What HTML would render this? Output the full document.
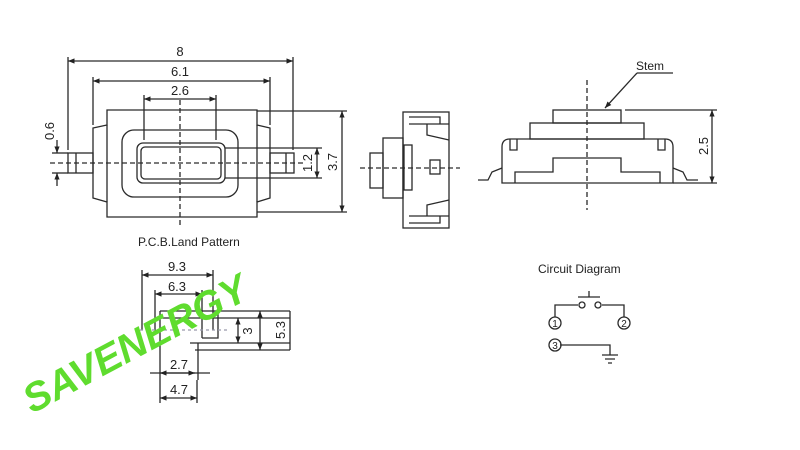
<!DOCTYPE html>
<html><head><meta charset="utf-8"><style>
html,body{margin:0;padding:0;background:#fff;}
svg{display:block;}
text{font-family:"Liberation Sans",sans-serif;fill:#222;}
</style></head><body>
<svg width="800" height="450" viewBox="0 0 800 450" xmlns="http://www.w3.org/2000/svg">
<defs>
<marker id="a" viewBox="0 0 10 10" refX="10" refY="5" markerWidth="7" markerHeight="5" orient="auto-start-reverse"><path d="M0,1 L10,5 L0,9 z" fill="#222"/></marker>
</defs>
<rect width="800" height="450" fill="#fff"/>
<g stroke="#2a2a2a" stroke-width="1.3" fill="none">
<line x1="68" y1="61" x2="293" y2="61" marker-start="url(#a)" marker-end="url(#a)"/>
<line x1="93" y1="81" x2="270" y2="81" marker-start="url(#a)" marker-end="url(#a)"/>
<line x1="144" y1="99" x2="216" y2="99" marker-start="url(#a)" marker-end="url(#a)"/>
<line x1="68" y1="57" x2="68" y2="150"/><line x1="293" y1="57" x2="293" y2="150"/>
<line x1="93" y1="77" x2="93" y2="125"/><line x1="270" y1="77" x2="270" y2="125"/>
<line x1="144" y1="95" x2="144" y2="140"/><line x1="216" y1="95" x2="216" y2="140"/>
<path d="M107,110 H257 V125 L270,128 V198 L257,202 V217 H107 V202 L93,198 V128 L107,125 Z"/>
<path d="M107,125 V202 M257,125 V202"/>
<rect x="122" y="130" width="116" height="67" rx="12"/>
<rect x="137" y="143" width="88" height="40" rx="6"/>
<rect x="141" y="147" width="80" height="32" rx="4"/>
<rect x="68" y="153" width="25" height="20"/><line x1="76" y1="153" x2="76" y2="173"/>
<rect x="270" y="153" width="24" height="20"/><line x1="286" y1="153" x2="286" y2="173"/>
<line x1="50" y1="163" x2="305" y2="163" stroke-dasharray="5,3"/>
<line x1="180" y1="100" x2="180" y2="225" stroke-dasharray="5,3"/>
<line x1="225" y1="148" x2="322" y2="148"/><line x1="225" y1="178" x2="322" y2="178"/>
<line x1="317" y1="148" x2="317" y2="178" marker-start="url(#a)" marker-end="url(#a)"/>
<line x1="257" y1="111" x2="347" y2="111"/><line x1="257" y1="212" x2="347" y2="212"/>
<line x1="342" y1="111" x2="342" y2="212" marker-start="url(#a)" marker-end="url(#a)"/>
<line x1="52" y1="153" x2="68" y2="153"/><line x1="52" y1="173" x2="68" y2="173"/>
<line x1="57" y1="140" x2="57" y2="153" marker-end="url(#a)"/><line x1="57" y1="186" x2="57" y2="173" marker-end="url(#a)"/>
<rect x="403" y="112" width="46" height="116"/>
<rect x="383" y="138" width="20" height="60"/>
<rect x="370" y="153" width="13" height="35"/>
<rect x="404" y="145" width="8" height="45"/>
<rect x="430" y="160" width="10" height="14"/>
<path d="M409,117 H440 V124 M409,124 H449 M427,124 V135 L449,140 M409,223 H440 V216 M409,216 H449 M427,216 V205 L449,200"/>
<line x1="360" y1="168" x2="460" y2="168" stroke-dasharray="5,3"/>
<rect x="553" y="110" width="68" height="13"/>
<rect x="530" y="123" width="114" height="16"/>
<path d="M502,183 V147 Q502,139 510,139 H665 Q673,139 673,147 V183 Z"/>
<path d="M515,183 V172 H553 V158 H621 V172 H660 V183"/>
<path d="M510,139 V150 H517 V139 M665,139 V150 H658 V139"/>
<path d="M502,168 L492,172 L488,180 H478 M673,168 L683,172 L687,180 H698"/>
<path d="M625,110 H717 M673,183 H717"/>
<line x1="712" y1="110" x2="712" y2="183" marker-start="url(#a)" marker-end="url(#a)"/>
<line x1="587" y1="80" x2="587" y2="210" stroke-dasharray="5,3"/>
<line x1="637" y1="73" x2="673" y2="73"/>
<line x1="637" y1="73" x2="605" y2="108" marker-end="url(#a)"/>
<line x1="142" y1="275" x2="213" y2="275" marker-start="url(#a)" marker-end="url(#a)"/>
<line x1="155" y1="294" x2="202" y2="294" marker-start="url(#a)" marker-end="url(#a)"/>
<line x1="142" y1="270" x2="142" y2="330"/><line x1="213" y1="270" x2="213" y2="330"/>
<line x1="155" y1="290" x2="155" y2="335"/><line x1="202" y1="290" x2="202" y2="338"/>
<path d="M160,311 H290 M160,318 H290 M190,343 H290 M195,350 H290 M160,311 V380 M198,343 V380 M218,311 V338 H202"/>
<line x1="238" y1="318" x2="238" y2="343" marker-start="url(#a)" marker-end="url(#a)"/>
<line x1="260" y1="311" x2="260" y2="350" marker-start="url(#a)" marker-end="url(#a)"/>
<line x1="290" y1="311" x2="290" y2="350"/>
<line x1="150" y1="373" x2="210" y2="373"/>
<line x1="160" y1="373" x2="195" y2="373" marker-start="url(#a)" marker-end="url(#a)"/>
<line x1="160" y1="398" x2="197" y2="398" marker-start="url(#a)" marker-end="url(#a)"/>
<line x1="160" y1="380" x2="160" y2="403"/><line x1="197" y1="380" x2="197" y2="403"/>
<line x1="140" y1="330" x2="230" y2="330" stroke-dasharray="3,3" stroke="#99a"/>
<path d="M578,297 H600 M589,291 V297 M578,305 H555 V317 M602,305 H624 V317 M560,345 H610 V355 M602,355 H618 M605,359 H615 M608,363 H612"/>
<circle cx="582" cy="305" r="3"/><circle cx="598" cy="305" r="3"/>
<circle cx="555" cy="323" r="6"/><circle cx="624" cy="323" r="6"/><circle cx="555" cy="345" r="6"/>
</g>
<g font-size="13">
<text x="180" y="56" text-anchor="middle">8</text>
<text x="180" y="76" text-anchor="middle">6.1</text>
<text x="180" y="95" text-anchor="middle">2.6</text>
<text x="0" y="0" transform="translate(312,163) rotate(-90)" text-anchor="middle">1.2</text>
<text x="0" y="0" transform="translate(337,162) rotate(-90)" text-anchor="middle">3.7</text>
<text x="0" y="0" transform="translate(54,131) rotate(-90)" text-anchor="middle">0.6</text>
<text x="0" y="0" transform="translate(708,146) rotate(-90)" text-anchor="middle">2.5</text>
<text x="636" y="70" font-size="12">Stem</text>
<text x="138" y="246" font-size="12">P.C.B.Land Pattern</text>
<text x="538" y="273" font-size="12">Circuit Diagram</text>
<text x="177" y="271" text-anchor="middle">9.3</text>
<text x="177" y="291" text-anchor="middle">6.3</text>
<text x="0" y="0" transform="translate(252,331) rotate(-90)" text-anchor="middle">3</text>
<text x="0" y="0" transform="translate(285,330) rotate(-90)" text-anchor="middle">5.3</text>
<text x="179" y="369" text-anchor="middle">2.7</text>
<text x="179" y="394" text-anchor="middle">4.7</text>
<text x="555" y="327" font-size="10" text-anchor="middle">1</text>
<text x="624" y="327" font-size="10" text-anchor="middle">2</text>
<text x="555" y="349" font-size="10" text-anchor="middle">3</text>
</g>
<text x="0" y="0" transform="translate(32,414) rotate(-28)" font-size="40" font-weight="bold" font-style="italic" style="fill:#5fdc2e">SAVENERGY</text>
</svg>
</body></html>
